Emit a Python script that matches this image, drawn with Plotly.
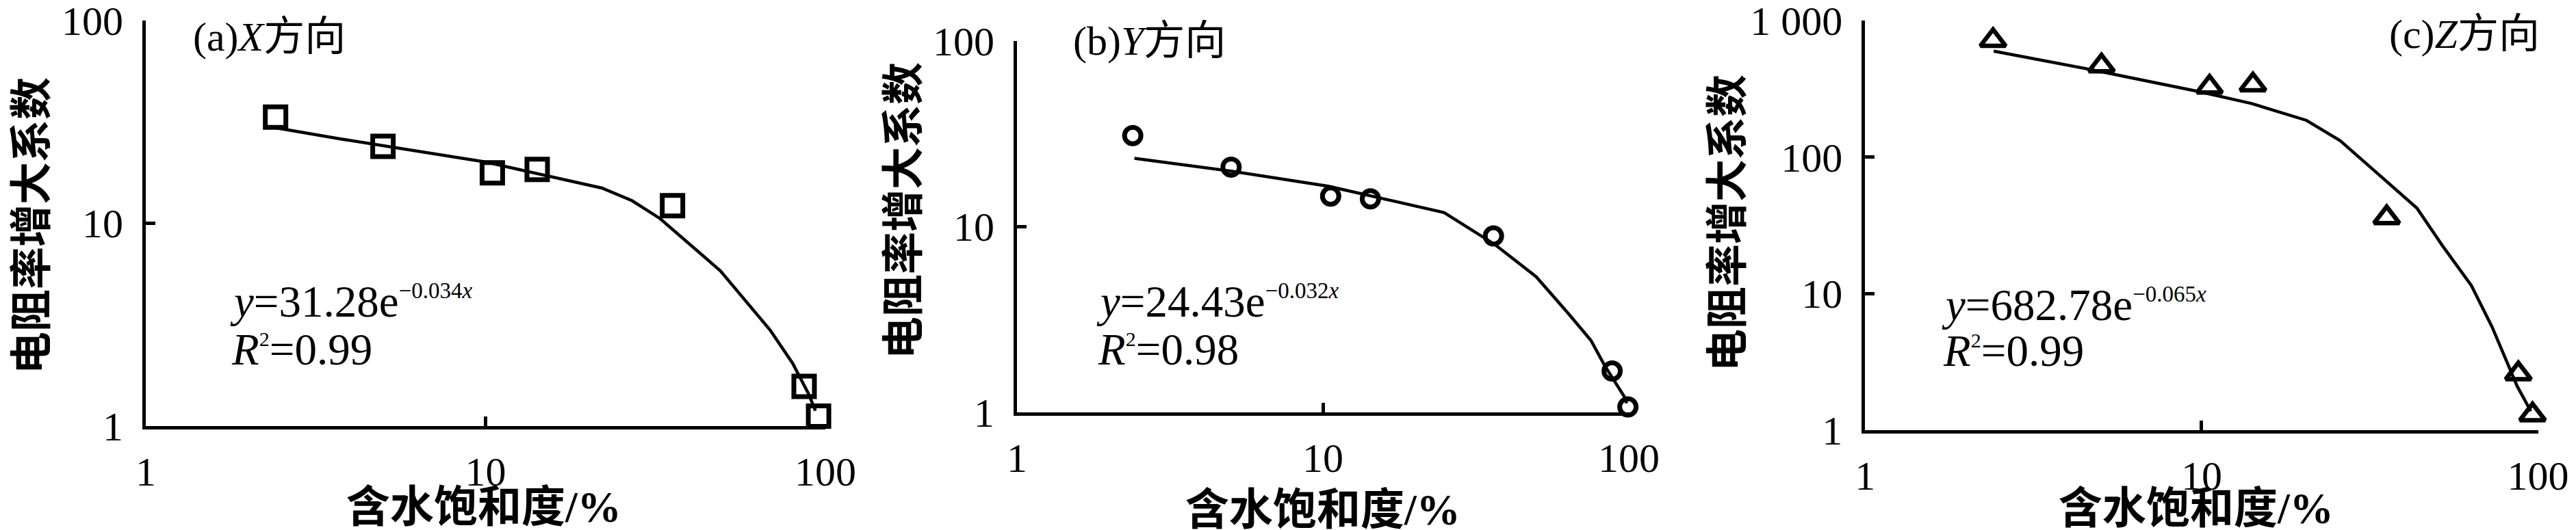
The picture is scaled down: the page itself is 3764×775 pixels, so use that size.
import plotly.graph_objects as go

W, H = 3764, 775

# ---------------- data ----------------
# (a) X direction - measured points
sat_a = [2.41, 4.99, 10.47, 14.19, 35.5, 86.6, 95.5]
rif_a = [33.3, 23.9, 17.7, 18.4, 12.2, 1.57, 1.12]
# (a) fitted curve y = 31.28 e^(-0.034x)
fit_sat_a = [2.42, 3.75, 9.89, 22.0, 27.0, 32.6, 49.1, 68.7, 80.1, 89.1, 93.5]
fit_rif_a = [29.5, 26.0, 20.1, 14.9, 12.9, 10.55, 5.82, 2.98, 2.04, 1.45, 1.19]

# (b) Y direction
sat_b = [2.39, 5.01, 10.6, 14.3, 36.1, 88.2, 99.3]
rif_b = [30.9, 20.9, 14.6, 14.1, 8.91, 1.67, 1.07]
fit_sat_b = [2.42, 5.01, 10.4, 24.9, 36.6, 49.8, 63.3, 75.2, 83.4, 90.1, 96.5, 98.5]
fit_rif_b = [23.3, 19.9, 16.5, 11.9, 7.98, 5.37, 3.42, 2.44, 1.785, 1.46, 1.22, 1.12]

# (c) Z direction
sat_c = [2.40, 5.04, 10.56, 14.21, 35.5, 87.4, 96.3]
rif_c = [717, 467, 326, 339, 36.0, 2.58, 1.29]
fit_sat_c = [2.41, 4.71, 9.84, 14.08, 20.5, 25.8, 33.6, 43.7, 51.8, 63.4, 73.0, 82.1, 86.7, 95.2]
fit_rif_c = [599, 437, 302, 247, 186, 132, 74.6, 42.1, 22.7, 11.4, 5.69, 2.84, 2.09, 1.37]

x_ticks = [1, 10, 100]
x_ticktext = ["1", "10", "100"]
y_ticks_ab = [1, 10, 100]
y_ticktext_ab = ["1", "10", "100"]
y_ticks_c = [1, 10, 100, 1000]
y_ticktext_c = ["1", "10", "100", "1 000"]

panel_titles = ["(a)<i>X</i>方向", "(b)<i>Y</i>方向", "(c)<i>Z</i>方向"]
eq_texts = [
    "<i>y</i>=31.28e<sup><span style=\"font-size:33px\">−0.034<i>x</i></span></sup>",
    "<i>y</i>=24.43e<sup><span style=\"font-size:33px\">−0.032<i>x</i></span></sup>",
    "<i>y</i>=682.78e<sup><span style=\"font-size:33px\">−0.065<i>x</i></span></sup>",
]
r2_texts = [
    "<i>R</i><sup><span style=\"font-size:30px\">2</span></sup>=0.99",
    "<i>R</i><sup><span style=\"font-size:30px\">2</span></sup>=0.98",
    "<i>R</i><sup><span style=\"font-size:30px\">2</span></sup>=0.99",
]
y_title = "电阻率增大系数"
x_title = "含水饱和度/%"

# ---------------- figure ----------------
SERIF = "Liberation Serif, 'Noto Sans CJK SC', serif"
CJK = "'Noto Sans CJK SC', sans-serif"

fig = go.Figure()

panels = [
    (sat_a, rif_a, fit_sat_a, fit_rif_a, "square-open", 30, 7, "x", "y"),
    (sat_b, rif_b, fit_sat_b, fit_rif_b, "circle-open", 24, 7, "x2", "y2"),
    (sat_c, rif_c, fit_sat_c, fit_rif_c, "triangle-up-open", 32, 6.5, "x3", "y3"),
]
for sx, sy, fx, fy, sym, size, lw, xa, ya in panels:
    fig.add_trace(go.Scatter(x=fx, y=fy, mode="lines", line=dict(color="black", width=4.5),
                             xaxis=xa, yaxis=ya, showlegend=False, cliponaxis=False))
    fig.add_trace(go.Scatter(x=sx, y=sy, mode="markers",
                             marker=dict(symbol=sym, size=size, color="black",
                                         line=dict(color="black", width=lw)),
                             xaxis=xa, yaxis=ya, showlegend=False, cliponaxis=False))

def px_x(p):
    return p / W

def px_y(p):
    return 1 - p / H

def xaxis_cfg(x0, x1, anchor):
    return dict(type="log", range=[0, 2], domain=[px_x(x0), px_x(x1)], anchor=anchor,
                automargin=False, ticklabeloverflow="allow",
                showline=True, linewidth=5, linecolor="black", showgrid=False, zeroline=False,
                ticks="inside", ticklen=14, tickwidth=5, tickcolor="black",
                tickmode="array", tickvals=x_ticks, ticktext=x_ticktext,
                tickfont=dict(family=SERIF, size=60, color="black"),
                ticklabelstandoff=10)

def yaxis_cfg(y_top, y_bot, anchor, rng, tv, tt):
    return dict(type="log", range=rng, domain=[px_y(y_bot), px_y(y_top)], anchor=anchor,
                automargin=False, ticklabeloverflow="allow",
                showline=True, linewidth=5, linecolor="black", showgrid=False, zeroline=False,
                ticks="inside", ticklen=14, tickwidth=5, tickcolor="black",
                tickmode="array", tickvals=tv, ticktext=tt,
                tickfont=dict(family=SERIF, size=60, color="black"),
                ticklabelstandoff=16)

fig.update_layout(
    width=W, height=H,
    margin=dict(l=0, r=0, t=0, b=0, autoexpand=False),
    paper_bgcolor="white", plot_bgcolor="white",
    xaxis=xaxis_cfg(205, 1198, "y"),
    yaxis=yaxis_cfg(21.7, 615, "x", [0, 2], y_ticks_ab, y_ticktext_ab),
    xaxis2=xaxis_cfg(1478, 2372, "y2"),
    yaxis2=yaxis_cfg(51.7, 595, "x2", [0, 2], y_ticks_ab, y_ticktext_ab),
    xaxis3=xaxis_cfg(2717.3, 3700.5, "y3"),
    yaxis3=yaxis_cfg(22.3, 620.5, "x3", [0, 3], y_ticks_c, y_ticktext_c),
)

ann = []
# panel labels
title_pos = [(272, 46, "left"), (1558, 52, "left"), (3705, 42, "right")]
for txt, (x, y, xa) in zip(panel_titles, title_pos):
    ann.append(dict(text=txt, x=px_x(x), y=px_y(y), xref="paper", yref="paper",
                    xanchor=xa, yanchor="middle", showarrow=False,
                    font=dict(family=SERIF, size=60, color="black")))
# equations
EQ_FS = 65
eq_pos = [(325.6, 455), (1591.5, 455), (2826.5, 460)]
r2_pos = [(328, 525), (1594, 525), (2829, 527)]
for txt, (x, base) in zip(eq_texts, eq_pos):
    ann.append(dict(text=txt, x=px_x(x), y=px_y(base - 0.34 * EQ_FS), xref="paper", yref="paper",
                    xanchor="left", yanchor="middle", showarrow=False,
                    font=dict(family=SERIF, size=EQ_FS, color="black")))
for txt, (x, base) in zip(r2_texts, r2_pos):
    ann.append(dict(text=txt, x=px_x(x), y=px_y(base - 0.34 * EQ_FS), xref="paper", yref="paper",
                    xanchor="left", yanchor="middle", showarrow=False,
                    font=dict(family=SERIF, size=EQ_FS, color="black")))
# axis titles
for (x, y) in [(33, 322), (1307, 300), (2511, 318)]:
    ann.append(dict(text=y_title, x=px_x(x), y=px_y(y), xref="paper", yref="paper",
                    xanchor="center", yanchor="middle", textangle=-90, showarrow=False,
                    font=dict(family=CJK, size=62, color="black", weight="bold")))
for (x, y) in [(699, 733), (1925, 737), (3201, 735)]:
    ann.append(dict(text=x_title, x=px_x(x), y=px_y(y), xref="paper", yref="paper",
                    xanchor="center", yanchor="middle", showarrow=False,
                    font=dict(family=SERIF, size=64, color="black", weight="bold")))
fig.update_layout(annotations=ann)

fig.write_html("out.html")
